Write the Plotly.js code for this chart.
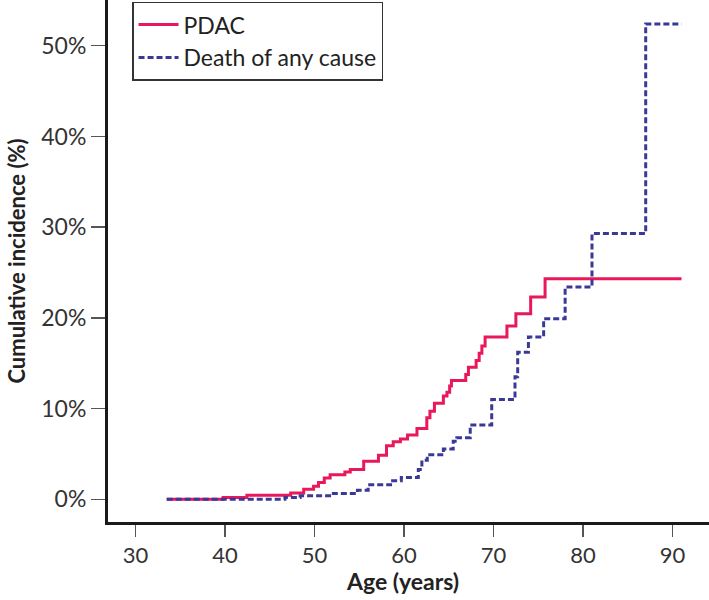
<!DOCTYPE html>
<html>
<head>
<meta charset="utf-8">
<script src="https://cdn.plot.ly/plotly-3.0.1.min.js"></script>
<style>html,body{margin:0;padding:0;background:#fff;}#chart{width:709px;height:600px;}</style>
</head>
<body>
<div id="chart"></div>
<script>
// PDAC cumulative incidence (step function): age at each step, value (%) after step
const pdacAge = [33.5, 39.8, 42.45, 47.35, 48.8, 49.9, 50.45, 51.1, 51.75, 53.4, 54.0, 55.5, 57.15, 58.05, 58.8, 59.6, 60.4, 61.45, 62.55, 62.9, 63.4, 64.4, 64.8, 65.1, 65.3, 66.9, 67.2, 68.06, 68.4, 68.7, 69.06, 71.5, 72.5, 74.15, 75.76, 91.0];
const pdacPct = [0, 0.2, 0.44, 0.7, 1.1, 1.45, 1.85, 2.35, 2.7, 3.0, 3.3, 4.2, 4.85, 5.9, 6.35, 6.65, 7.1, 7.8, 9.0, 9.7, 10.6, 11.4, 11.8, 12.5, 13.1, 13.75, 14.55, 15.3, 16.1, 16.9, 17.9, 19.1, 20.45, 22.3, 24.3, 24.3];

// Death of any cause cumulative incidence
const deathAge = [33.5, 46.7, 48.4, 51.9, 54.8, 56.0, 58.5, 59.7, 61.6, 62.0, 62.6, 64.4, 65.5, 65.9, 67.4, 69.8, 72.4, 72.7, 73.9, 75.6, 78.0, 81.0, 87.0, 91.0];
const deathPct = [0, 0.2, 0.4, 0.65, 1.0, 1.6, 2.05, 2.4, 3.3, 4.3, 4.9, 5.55, 6.4, 6.8, 8.2, 11.0, 13.5, 16.2, 17.9, 19.9, 23.4, 29.3, 52.4, 52.4];

const seriesNames = ["PDAC", "Death of any cause"];
const xTicks = [30, 40, 50, 60, 70, 80, 90];
const yTicks = [0, 10, 20, 30, 40, 50];
const yTickText = ["0%", "10%", "20%", "30%", "40%", "50%"];
const xTitle = "Age (years)";
const yTitle = "Cumulative incidence (%)";

const FONT = "Lato, 'Noto Sans', sans-serif";

const traces = [
  {x: pdacAge, y: pdacPct, name: seriesNames[0], type: "scatter", mode: "lines",
   line: {shape: "hv", color: "#e8185a", width: 3}},
  {x: deathAge, y: deathPct, name: seriesNames[1], type: "scatter", mode: "lines",
   line: {shape: "hv", color: "#3a3a96", width: 3, dash: "6px,3px"}}
];

const layout = {
  width: 709, height: 600,
  margin: {l: 108, r: 0, t: 0, b: 78, pad: 0},
  paper_bgcolor: "#fff", plot_bgcolor: "#fff",
  font: {family: FONT, size: 23, color: "#333"},
  showlegend: true,
  legend: {x: 0.04, y: 0.997, xanchor: "left", yanchor: "top",
           bordercolor: "#333", borderwidth: 1.5, bgcolor: "#fff", itemwidth: 40,
           font: {family: FONT, size: 23, color: "#222"}},
  xaxis: {range: [26.94, 94.07], tickvals: xTicks, ticktext: xTicks.map(String),
          showgrid: false, zeroline: false, showline: true, linecolor: "#1a1a1a", linewidth: 3,
          ticks: "outside", ticklen: 12, tickwidth: 1.5, tickcolor: "#555",
          ticklabelstandoff: 0,
          tickfont: {family: FONT, size: 22, color: "#333"}},
  yaxis: {range: [-2.5, 55.04], tickvals: yTicks, ticktext: yTickText,
          showgrid: false, zeroline: false, showline: true, linecolor: "#1a1a1a", linewidth: 3,
          ticks: "outside", ticklen: 14, tickwidth: 1.5, tickcolor: "#555",
          tickfont: {family: FONT, size: 23, color: "#333"},
          title: {text: "<b>" + yTitle + "</b>", font: {family: FONT, size: 22, color: "#222"}, standoff: 10}},
  annotations: [
    {text: "<b>" + xTitle + "</b>", xref: "paper", yref: "paper", x: 0.49, y: -0.113,
     xanchor: "center", yanchor: "middle", showarrow: false,
     font: {family: FONT, size: 23, color: "#222"}}
  ]
};

Plotly.newPlot("chart", traces, layout, {displayModeBar: false, staticPlot: true});
</script>
</body>
</html>
